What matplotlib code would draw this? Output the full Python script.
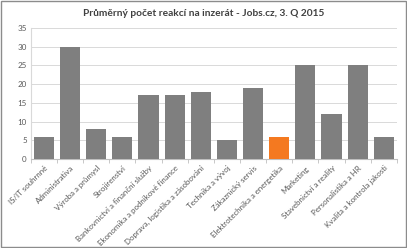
import matplotlib
matplotlib.use("Agg")
import matplotlib.pyplot as plt
import numpy as np

categories = [
    "IS/IT souhrnné", "Administrativa", "Výroba a průmysl", "Strojírenství",
    "Bankovnictví a finanční služby", "Ekonomika a podnikové finance",
    "Doprava, logistika a zásobování", "Technika a vývoj", "Zákaznický servis",
    "Elektrotechnika a energetika", "Marketing", "Stavebnictví a reality",
    "Personalistika a HR", "Kvalita a kontrola jakosti",
]
values = [6, 30, 8, 6, 17, 17, 18, 5, 19, 6, 25, 12, 25, 6]
highlight = "Elektrotechnika a energetika"
y_ticks = [0, 5, 10, 15, 20, 25, 30, 35]
title = "Průměrný počet reakcí na inzerát - Jobs.cz, 3. Q 2015"

plt.rcParams["font.family"] = ["Lato", "DejaVu Sans"]

fig = plt.figure(figsize=(4.07, 2.48), dpi=100)
fig.patches.append(plt.Rectangle((0.002, 0.004), 0.996, 0.992, transform=fig.transFigure,
                                 fill=False, edgecolor="#8c8c8c", linewidth=1.0))
ax = fig.add_axes([0.076, 0.359, 0.899, 0.528])

x = np.arange(len(categories))
colors = ["#f47920" if c == highlight else "#7f7f7f" for c in categories]
ax.bar(x, values, width=0.77, color=colors, zorder=3)

ax.set_xlim(-0.5, len(categories) - 0.5)
ax.set_ylim(0, 35)
ax.set_yticks(y_ticks)
ax.tick_params(axis="y", length=0, labelsize=5.8, labelcolor="#595959", pad=3)
ax.yaxis.grid(True, color="#d9d9d9", linewidth=0.7, zorder=0)

ax.set_xticks(x)
ax.set_xticklabels(categories, rotation=45, ha="right", rotation_mode="anchor",
                   fontsize=5.7, color="#595959")
ax.set_xticks(np.arange(len(categories) + 1) - 0.5, minor=True)
ax.tick_params(axis="x", which="major", length=0, pad=4)
ax.tick_params(axis="x", which="minor", length=3, color="#bfbfbf", direction="out")

for s in ["top", "right"]:
    ax.spines[s].set_visible(False)
ax.spines["left"].set_color("#d9d9d9")
ax.spines["bottom"].set_color("#bfbfbf")

fig.text(0.5, 0.945, title, ha="center", va="center", fontsize=7.3, fontweight="bold",
         color="#404040")

fig.savefig("out.png", dpi=100)
